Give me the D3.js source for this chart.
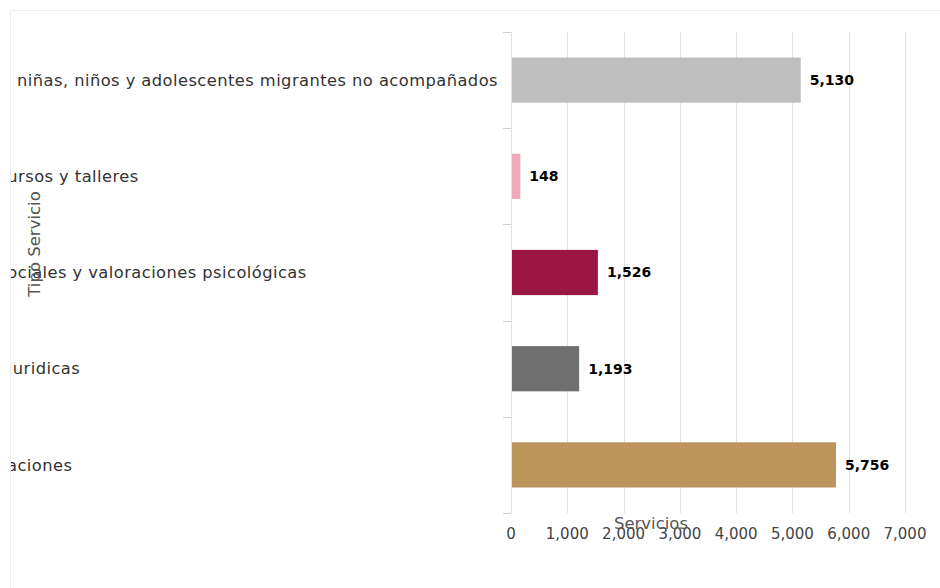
<!DOCTYPE html>
<html>
<head>
<meta charset="utf-8">
<script src="https://cdn.jsdelivr.net/npm/d3@7"></script>
<style>
  body { margin: 0; background: #fff; }
  svg { display: block; font-family: "DejaVu Sans", sans-serif; }
</style>
</head>
<body>
<div id="chart"></div>
<script>
// data
const categories = [
  "Atención a niñas, niños y adolescentes migrantes no acompañados",
  "Pláticas, cursos y talleres",
  "Estudios sociales y valoraciones psicológicas",
  "Asesorías juridicas",
  "Representaciones"
];
const servicios = [5130, 148, 1526, 1193, 5756];
const barColors = ["#bfbfbf", "#f0a8bc", "#9b1642", "#6f6f6f", "#bc955c"];
const xTicks = [0, 1000, 2000, 3000, 4000, 5000, 6000, 7000];

const W = 940, H = 588;
const fmt = d3.format(",");

const svg = d3.select("#chart").append("svg")
  .attr("width", W)
  .attr("height", H);

// card border
svg.append("rect")
  .attr("x", 10.5).attr("y", 10.5)
  .attr("width", W).attr("height", H)
  .attr("fill", "none")
  .attr("stroke", "#ececec");

svg.append("clipPath").attr("id", "card")
  .append("rect")
    .attr("x", 11).attr("y", 11)
    .attr("width", W).attr("height", H);

const g = svg.append("g").attr("clip-path", "url(#card)");

const x = d3.scaleLinear()
  .domain([0, 7000])
  .range([511, 905]);

const y = d3.scaleBand()
  .domain(categories)
  .range([32, 513])
  .paddingInner(0.53)
  .paddingOuter(0.265);

// gridlines
g.append("g").selectAll("line")
  .data(xTicks)
  .join("line")
    .attr("x1", d => Math.round(x(d)) + 0.5)
    .attr("x2", d => Math.round(x(d)) + 0.5)
    .attr("y1", 32)
    .attr("y2", 513)
    .attr("stroke", "#e2e2e2");

// x tick labels
g.append("g").selectAll("text")
  .data(xTicks)
  .join("text")
    .attr("x", d => x(d))
    .attr("y", 539)
    .attr("text-anchor", "middle")
    .attr("font-size", 15)
    .attr("fill", "#444")
    .text(d => fmt(d));

// y tick marks at band boundaries
const gap = (y.step() - y.bandwidth()) / 2;
const bounds = categories.map(c => y(c) - gap).concat([y(categories[categories.length - 1]) + y.bandwidth() + gap]);
g.append("g").selectAll("line")
  .data(bounds)
  .join("line")
    .attr("x1", 503)
    .attr("x2", 511)
    .attr("y1", d => Math.round(d) + 0.5)
    .attr("y2", d => Math.round(d) + 0.5)
    .attr("stroke", "#cfcfcf");

// category labels: left aligned on a common start, the longest one ends by the axis
const labels = g.append("g").selectAll("text")
  .data(categories)
  .join("text")
    .attr("y", d => y(d) + y.bandwidth() / 2)
    .attr("dy", "0.35em")
    .attr("font-size", 16.3)
    .attr("letter-spacing", "0.45px")
    .attr("fill", "#333")
    .text(d => d);
const longest = d3.max(labels.nodes(), n => n.getComputedTextLength());
labels.attr("x", 498 - longest);

// bars
g.append("g").selectAll("rect")
  .data(servicios)
  .join("rect")
    .attr("x", x(0) + 1)
    .attr("y", (d, i) => y(categories[i]))
    .attr("width", d => x(d) - x(0))
    .attr("height", y.bandwidth())
    .attr("fill", (d, i) => barColors[i]);

// value labels
g.append("g").selectAll("text")
  .data(servicios)
  .join("text")
    .attr("x", d => x(d) + 10)
    .attr("y", (d, i) => y(categories[i]) + y.bandwidth() / 2)
    .attr("dy", "0.35em")
    .attr("font-size", 14)
    .attr("font-weight", "bold")
    .attr("fill", "#000")
    .text(d => fmt(d));

// axis titles
g.append("text")
  .attr("transform", "translate(40,244) rotate(-90)")
  .attr("text-anchor", "middle")
  .attr("font-size", 16.5)
  .attr("fill", "#555")
  .text("Tipo Servicio");

g.append("text")
  .attr("x", 651)
  .attr("y", 529)
  .attr("text-anchor", "middle")
  .attr("font-size", 16.5)
  .attr("fill", "#555")
  .text("Servicios");
</script>
</body>
</html>
